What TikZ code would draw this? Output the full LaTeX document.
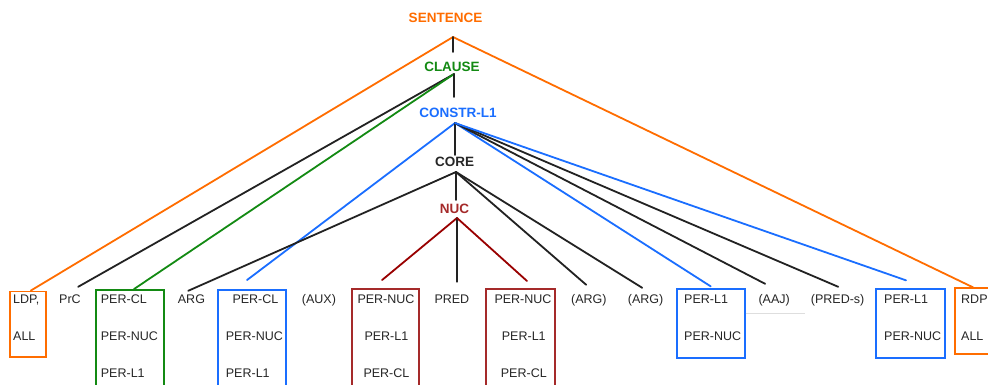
\documentclass[tikz,border=0pt]{standalone}
\usepackage{fontspec}
\setmainfont{Liberation Sans}
\usetikzlibrary{fit}

\definecolor{lorange}{HTML}{FF6D00}
\definecolor{lgreen}{HTML}{138A13}
\definecolor{lblue}{HTML}{1A6EFF}
\definecolor{lred}{HTML}{A52A2A}
\definecolor{lredline}{HTML}{990000}
\definecolor{ltext}{HTML}{262626}
\definecolor{lline}{HTML}{222222}

\tikzset{
  head/.style={font=\fontsize{13.5}{16}\selectfont\bfseries, inner sep=0pt,
    text height=9.7pt, text depth=0pt, anchor=center},
  leaf/.style={font=\fontsize{12.5}{15}\selectfont, text=ltext, inner sep=0pt,
    text height=9pt, text depth=0pt, anchor=base west},
  frame/.style={draw=#1, line width=1.9pt, inner sep=0pt},
  edge/.style={draw=#1, line width=1.8pt, line cap=round},
  edge/.default=lline
}

\begin{document}
\begin{tikzpicture}[x=1pt, y=-1pt]
\clip (0,0) rectangle (988,384);
\fill[white] (0,0) rectangle (988,384);

% layer labels
\node[head, text=lorange] (sentence) at (445.5,18) {SENTENCE};
\node[head, text=lgreen]  (clause)   at (452,67)   {CLAUSE};
\node[head, text=lblue]   (constr)   at (458,113)  {CONSTR-L1};
\node[head, text=ltext]   (core)     at (454.5,162){CORE};
\node[head, text=lred]    (nuc)      at (454.5,209){NUC};

% branching points below each label
\coordinate (sentence-foot) at (453,37);
\coordinate (clause-foot)   at (454,74);
\coordinate (constr-foot)   at (455,123);
\coordinate (core-foot)     at (456,172);
\coordinate (nuc-foot)      at (457,218);

% bottom row: texts
\def\ra{303.5}\def\rb{340.5}\def\rc{377.5}
\node[leaf] (ldp-a) at (13,\ra) {LDP,};
\node[leaf] (ldp-b) at (13,\rb) {ALL};
\node[leaf] (prc)   at (59,\ra) {PrC};
\node[leaf] (g-a) at (100.7,\ra) {PER-CL};
\node[leaf] (g-b) at (100.7,\rb) {PER-NUC};
\node[leaf] (g-c) at (100.7,\rc) {PER-L1};
\node[leaf] (arg) at (177.7,\ra) {ARG};
\node[leaf] (b1-a) at (232.3,\ra) {PER-CL};
\node[leaf] (b1-b) at (225.7,\rb) {PER-NUC};
\node[leaf] (b1-c) at (225.7,\rc) {PER-L1};
\node[leaf] (aux) at (301.7,\ra) {(AUX)};
\node[leaf] (r1-a) at (357.3,\ra) {PER-NUC};
\node[leaf] (r1-b) at (364.3,\rb) {PER-L1};
\node[leaf] (r1-c) at (363.3,\rc) {PER-CL};
\node[leaf] (pred) at (434.3,\ra) {PRED};
\node[leaf] (r2-a) at (494.3,\ra) {PER-NUC};
\node[leaf] (r2-b) at (501.7,\rb) {PER-L1};
\node[leaf] (r2-c) at (500.7,\rc) {PER-CL};
\node[leaf] (argx) at (571,\ra) {(ARG)};
\node[leaf] (argy) at (627.7,\ra) {(ARG)};
\node[leaf] (b2-a) at (684,\ra) {PER-L1};
\node[leaf] (b2-b) at (684,\rb) {PER-NUC};
\node[leaf] (aaj) at (758.3,\ra) {(AAJ)};
\node[leaf] (preds) at (810.7,\ra) {(PRED-s)};
\node[leaf] (b3-a) at (884,\ra) {PER-L1};
\node[leaf] (b3-b) at (884,\rb) {PER-NUC};
\node[leaf] (rdp-a) at (961,\ra) {RDP};
\node[leaf] (rdp-b) at (961,\rb) {ALL};

% frames around the periphery groups
\node[frame=lorange, fit={(10,291.5) (45.7,357.3)}] (ldp) {};
\node[frame=lgreen,  fit={(96,290) (164,400)}] (gbox) {};
\node[frame=lblue,   fit={(217.7,290) (285.7,400)}] (b1) {};
\node[frame=lred,    fit={(351.7,288.7) (419,400)}] (r1) {};
\node[frame=lred,    fit={(486,288.7) (554.7,400)}] (r2) {};
\node[frame=lblue,   fit={(676.7,289.3) (744.7,357.7)}] (b2) {};
\node[frame=lblue,   fit={(876,289.3) (944.7,357.7)}] (b3) {};
\node[frame=lorange, fit={(955.3,288.3) (1000,354.3)}] (rdp) {};

% faint rule under (AAJ)
\coordinate (aaj-rule) at ([yshift=-9.5pt]aaj.south);
\draw[draw=black!13, line width=0.9pt] (aaj-rule -| b2.east) -- ([xshift=15pt]aaj-rule -| aaj.east);

% SENTENCE
\draw[edge=lorange] (sentence-foot) -- ([xshift=3pt]ldp.north);
\draw[edge=lorange] (sentence-foot) -- ([xshift=-4.6pt]rdp.north);
\draw[edge] (sentence-foot) -- ([yshift=10pt]sentence-foot |- clause.north);

% CLAUSE
\draw[edge] (clause-foot) -- ([xshift=8.2pt,yshift=7.5pt]prc.north);
\draw[edge=lgreen] (clause-foot) -- ([xshift=4pt]gbox.north);
\draw[edge] (clause-foot) -- ([yshift=11pt]clause-foot |- constr.north);

% CONSTR-L1
\draw[edge=lblue] (constr-foot) -- ([xshift=-4.7pt,yshift=9pt]b1.north);
\draw[edge] (constr-foot) -- ([yshift=2pt]constr-foot |- core.north);
\draw[edge=lblue] (constr-foot) -- ([yshift=2pt]b2.north);
\draw[edge] (constr-foot) -- ([xshift=-9pt,yshift=10.5pt]aaj.north);
\draw[edge] (constr-foot) -- ([xshift=0.6pt,yshift=7.5pt]preds.north);
\draw[edge=lblue] (constr-foot) -- ([xshift=-4.3pt,yshift=8pt]b3.north);

% CORE
\draw[edge] (core-foot) -- ([xshift=-3.2pt,yshift=3.5pt]arg.north);
\draw[edge] (core-foot) -- ([yshift=4pt]core-foot |- nuc.north);
\draw[edge] (core-foot) -- ([xshift=-2.7pt,yshift=9.5pt]argx.north);
\draw[edge] (core-foot) -- ([xshift=-3.4pt,yshift=6.5pt]argy.north);

% NUC
\draw[edge=lredline] (nuc-foot) -- ([xshift=-3.3pt,yshift=7.7pt]r1.north);
\draw[edge] (nuc-foot) -- ([yshift=12.5pt]nuc-foot |- pred.north);
\draw[edge=lredline] (nuc-foot) -- ([xshift=6.7pt,yshift=6.7pt]r2.north);
\end{tikzpicture}
\end{document}
